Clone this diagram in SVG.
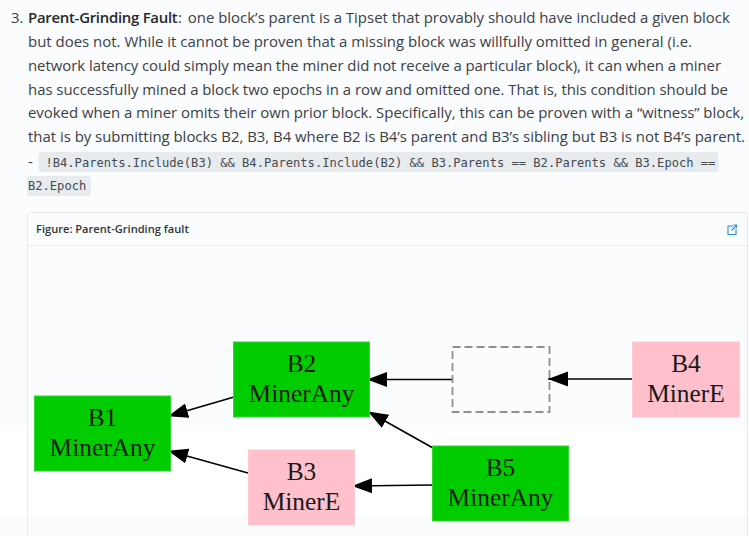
<svg xmlns="http://www.w3.org/2000/svg" width="749" height="536" viewBox="0 0 749 536">
<style>
.t{font-family:"Open Sans","Noto Sans",sans-serif;font-size:14.95px;fill:#3a4047}
.b{font-weight:600;fill:#24292e;letter-spacing:-.28px}
.c{font-family:"DejaVu Sans Mono","Liberation Mono",monospace;font-size:12.1px;fill:#444a50}
.n{font-family:"Liberation Serif","Times New Roman",serif;font-size:25.4px;fill:#1a1a1a;text-anchor:middle}
.g{fill:#00cc00;stroke:#33d633;stroke-width:1}
.p{fill:#ffc0cb;stroke:#ffc8d2;stroke-width:1}
.e{stroke:#000;stroke-width:1.6;fill:none;marker-end:url(#a)}
</style>
<defs><marker id="a" markerUnits="userSpaceOnUse" markerWidth="21" markerHeight="16" refX="20" refY="7.500" orient="auto"><path d="M0 0L20 7.500L0 15Z" fill="#000"/></marker></defs>
<rect width="749" height="536" fill="#fbfcfd"/>
<rect y="430" width="749" height="87" fill="#fff"/>
<rect y="517" width="749" height="19" fill="#fafbfb"/>
<rect x="38.500" y="152" width="680" height="20" rx="3" fill="#e8ebee"/>
<rect x="27" y="176" width="64" height="20" rx="3" fill="#e8ebee"/>
<g id="text">
<text class="t" x="11" y="23">3.</text>
<text class="t" x="28" y="23"><tspan class="b">Parent-Grinding Fault</tspan><tspan dx="0.500">: </tspan><tspan dx="2">one block’s parent is a Tipset that provably should have included a given block</tspan></text>
<text class="t" x="28" y="47" textLength="664">but does not. While it cannot be proven that a missing block was willfully omitted in general (i.e.</text>
<text class="t" x="28" y="71" textLength="693">network latency could simply mean the miner did not receive a particular block), it can when a miner</text>
<text class="t" x="28" y="95" textLength="700">has successfully mined a block two epochs in a row and omitted one. That is, this condition should be</text>
<text class="t" x="28" y="118" textLength="716">evoked when a miner omits their own prior block. Specifically, this can be proven with a “witness” block,</text>
<text class="t" x="28" y="142" textLength="717">that is by submitting blocks B2, B3, B4 where B2 is B4’s parent and B3’s sibling but B3 is not B4’s parent.</text>
<text class="t" x="28" y="167">-</text>
<text class="c" x="45.500" y="167">!B4.Parents.Include(B3) &amp;&amp; B4.Parents.Include(B2) &amp;&amp; B3.Parents == B2.Parents &amp;&amp; B3.Epoch ==</text>
<text class="c" x="28" y="190">B2.Epoch</text>
</g>
<g id="figure">
<rect x="27.500" y="212.500" width="720" height="330" rx="3" fill="none" stroke="#e8eaec"/>
<line x1="28" y1="245.500" x2="747" y2="245.500" stroke="#eceef0"/>
<text x="36" y="233" style="font-family:'Open Sans','Noto Sans',sans-serif;font-size:11.100px;font-weight:600;fill:#30353a">Figure: Parent-Grinding fault</text>
<g id="icon" fill="none" stroke="#2b8fd9" stroke-width="1.100"><path d="M733.500 226H728V234.500H736V229"/><path d="M731.500 230.500L736.500 225.500M733.500 225H736.500V228"/></g>
</g>
<g id="connectors">
<line class="e" x1="234" y1="397" x2="168" y2="416.300"/>
<line class="e" x1="248" y1="473" x2="168" y2="450.700"/>
<line class="e" x1="452" y1="379.500" x2="367" y2="379.500"/>
<line class="e" x1="633" y1="379" x2="548" y2="379"/>
<line class="e" x1="433" y1="448" x2="368" y2="411.500"/>
<line class="e" x1="433" y1="485" x2="352" y2="486"/>
</g>
<g id="B1"><rect class="g" x="34.500" y="396" width="136" height="75"/><text class="n" x="102.500" y="426">B1</text><text class="n" x="102.500" y="456">MinerAny</text></g>
<g id="B2"><rect class="g" x="233.500" y="342" width="136" height="75"/><text class="n" x="301.500" y="372">B2</text><text class="n" x="301.500" y="402">MinerAny</text></g>
<g id="B3"><rect class="p" x="248.500" y="450" width="106" height="75"/><text class="n" x="301.500" y="480">B3</text><text class="n" x="301.500" y="510">MinerE</text></g>
<g id="B4"><rect class="p" x="632.500" y="342" width="107" height="75"/><text class="n" x="686" y="372">B4</text><text class="n" x="686" y="402">MinerE</text></g>
<g id="B5"><rect class="g" x="432.500" y="446" width="136" height="75"/><text class="n" x="500.500" y="476">B5</text><text class="n" x="500.500" y="506">MinerAny</text></g>
<g id="missing"><rect x="452.500" y="347" width="97" height="65" fill="none" stroke="#909090" stroke-width="1.800" stroke-dasharray="8 4"/></g>
</svg>
